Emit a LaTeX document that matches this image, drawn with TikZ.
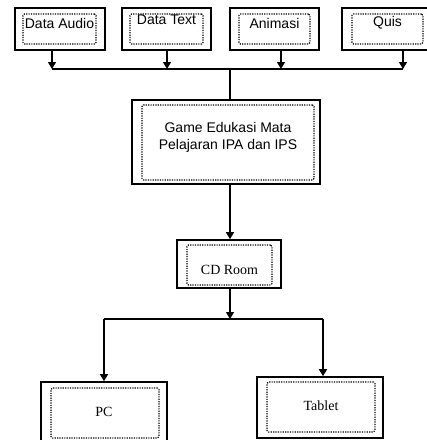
\documentclass[tikz,border=0pt]{standalone}
\usepackage{fontspec}
\setmainfont{Liberation Serif}
\newfontfamily\arialfont{Liberation Sans}
\usetikzlibrary{arrows.meta}

\begin{document}
\begin{tikzpicture}[x=1pt,y=-1pt,line width=1.3pt,
  outbox/.style={draw,line width=1.6pt,inner sep=0pt},
  inbox/.style={draw,line width=1.1pt,dash pattern=on 1.2pt off 1.2pt,rounded corners=1.5pt,inner sep=0pt},
  sanslbl/.style={font=\arialfont\fontsize{14}{17}\selectfont,align=center,inner sep=0pt},
  serlbl/.style={font=\fontsize{14}{17}\selectfont,inner sep=0pt},
  arr/.style={-{Triangle[width=8pt,length=7pt]}}]

\useasboundingbox (0,0) rectangle (427,440);
\clip (0,0) rectangle (427,440);

% top row
\node[outbox,minimum width=90pt,minimum height=42pt] (audio) at (60,29) {};
\node[inbox,minimum width=73pt,minimum height=30pt] (audioin) at (59.5,29) {};
\node[sanslbl] (audiotxt) at (59.5,23) {Data Audio};

\node[outbox,minimum width=89pt,minimum height=42pt] (text) at (166.5,29) {};
\node[inbox,minimum width=73pt,minimum height=30pt] (textin) at (166.5,29) {};
\node[sanslbl] (texttxt) at (166.5,20) {Data Text};

\node[outbox,minimum width=89pt,minimum height=42pt] (anim) at (274.5,29) {};
\node[inbox,minimum width=71pt,minimum height=30pt] (animin) at (274.5,29) {};
\node[sanslbl] (animtxt) at (274.5,23) {Animasi};

\node[outbox,minimum width=90pt,minimum height=42pt] (quis) at (387,29) {};
\node[inbox,minimum width=71pt,minimum height=30pt] (quisin) at (387.5,29) {};
\node[sanslbl] (quistxt) at (387.5,23) {Quis};

% game
\node[outbox,minimum width=188pt,minimum height=84pt] (game) at (226,142) {};
\node[inbox,minimum width=172pt,minimum height=75pt] (gamein) at (228,142.5) {};
\node[sanslbl] (gametxt) at (228,137) {Game Edukasi Mata\\Pelajaran IPA dan IPS};

% cd
\node[outbox,minimum width=104pt,minimum height=48pt] (cd) at (229,264) {};
\node[inbox,minimum width=85pt,minimum height=40pt] (cdin) at (229.5,265) {};
\node[serlbl] (cdtxt) at (229.5,270) {CD Room};

% pc, tablet
\node[outbox,minimum width=126pt,minimum height=62pt] (pc) at (104,413) {};
\node[inbox,minimum width=108pt,minimum height=50pt] (pcin) at (105,413) {};
\node[serlbl] (pctxt) at (104,412) {PC};

\node[outbox,minimum width=126pt,minimum height=61pt] (tablet) at (320,407.5) {};
\node[inbox,minimum width=108pt,minimum height=50pt] (tabletin) at (321,407) {};
\node[serlbl] (tablettxt) at (321,406) {Tablet};

% bus lines
\coordinate (bA) at (52,69);
\coordinate (bB) at (167,69);
\coordinate (bC) at (281,69);
\coordinate (bD) at (403,69);
\coordinate (bmid) at (230,69);
\coordinate (bE) at (230,319);
\coordinate (bL) at (104,319);
\coordinate (bR) at (323,319);

\draw[arr] (audio.south -| bA) -- (bA);
\draw[arr] (text.south -| bB) -- (bB);
\draw[arr] (anim.south -| bC) -- (bC);
\draw[arr] (quis.south -| bD) -- (bD);
\draw (bA) -- (bD);
\draw (bmid) -- (bmid |- game.north);

\draw[arr] (game.south -| bmid) -- (cd.north -| bmid);
\draw[arr] (cd.south -| bE) -- (bE);
\draw (bL) -- (bR);
\draw[arr] (bL) -- (pc.north -| bL);
\draw[arr] (bR) -- (tablet.north -| bR);
\end{tikzpicture}
\end{document}
